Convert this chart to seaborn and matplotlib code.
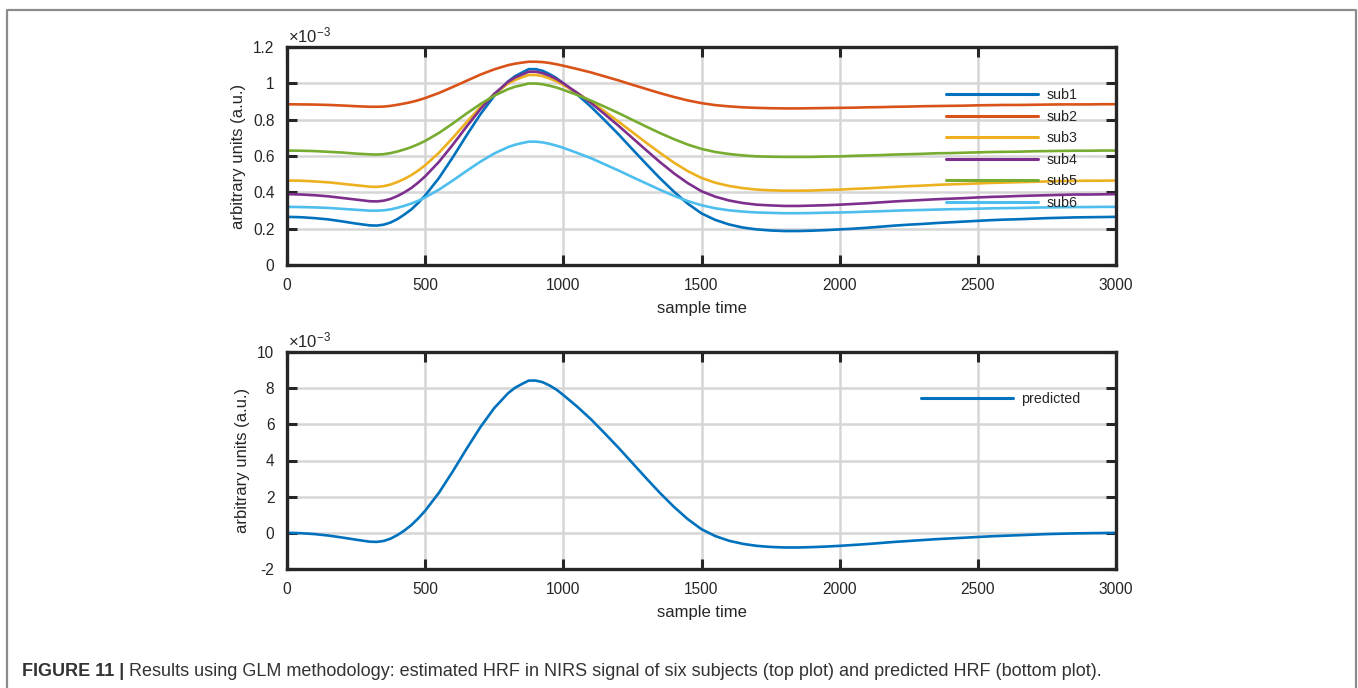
import numpy as np
import pandas as pd
import matplotlib
matplotlib.use("Agg")
import matplotlib.pyplot as plt
from matplotlib.lines import Line2D
from matplotlib.ticker import FuncFormatter
import seaborn as sns

# ---------------- data (values in units of 1e-3) ----------------
t = [0, 50, 100, 150, 200, 250, 300, 325, 350, 375, 400, 425, 450, 475, 500,
     550, 600, 650, 700, 750, 800, 825, 850, 875, 900, 925, 950, 975, 1000,
     1050, 1100, 1150, 1200, 1250, 1300, 1350, 1400, 1450, 1500, 1550, 1600,
     1650, 1700, 1750, 1800, 1850, 1900, 1950, 2000, 2050, 2100, 2150, 2200,
     2250, 2300, 2350, 2400, 2450, 2500, 2550, 2600, 2650, 2700, 2750, 2800,
     2850, 2900, 2950, 3000]

sub1 = [0.265, 0.263, 0.258, 0.251, 0.240, 0.228, 0.218, 0.217, 0.222, 0.234, 0.253,
        0.278, 0.306, 0.342, 0.383, 0.479, 0.593, 0.714, 0.830, 0.931, 1.010, 1.039,
        1.059, 1.078, 1.078, 1.069, 1.051, 1.029, 1.000, 0.939, 0.871, 0.796, 0.719,
        0.637, 0.556, 0.477, 0.404, 0.338, 0.284, 0.248, 0.223, 0.206, 0.196, 0.190,
        0.187, 0.187, 0.189, 0.192, 0.196, 0.200, 0.205, 0.211, 0.217, 0.222, 0.226,
        0.231, 0.235, 0.239, 0.243, 0.247, 0.250, 0.252, 0.255, 0.258, 0.260, 0.262,
        0.263, 0.264, 0.265]
sub2 = [0.885, 0.884, 0.883, 0.881, 0.878, 0.874, 0.871, 0.871, 0.872, 0.876, 0.882,
        0.889, 0.897, 0.907, 0.919, 0.947, 0.980, 1.014, 1.048, 1.077, 1.100, 1.108,
        1.114, 1.119, 1.119, 1.117, 1.112, 1.105, 1.097, 1.079, 1.060, 1.038, 1.016,
        0.992, 0.969, 0.946, 0.925, 0.906, 0.891, 0.880, 0.873, 0.868, 0.865, 0.863,
        0.862, 0.862, 0.863, 0.864, 0.865, 0.866, 0.868, 0.869, 0.871, 0.872, 0.874,
        0.875, 0.876, 0.877, 0.879, 0.880, 0.881, 0.881, 0.882, 0.883, 0.884, 0.884,
        0.884, 0.885, 0.885]
sub3 = [0.465, 0.464, 0.460, 0.455, 0.447, 0.439, 0.431, 0.430, 0.434, 0.443, 0.457,
        0.474, 0.495, 0.520, 0.549, 0.618, 0.700, 0.786, 0.869, 0.941, 0.998, 1.018,
        1.033, 1.046, 1.046, 1.040, 1.027, 1.011, 0.991, 0.947, 0.898, 0.845, 0.789,
        0.731, 0.673, 0.617, 0.564, 0.517, 0.479, 0.453, 0.435, 0.423, 0.415, 0.411,
        0.409, 0.409, 0.410, 0.413, 0.415, 0.419, 0.422, 0.426, 0.430, 0.434, 0.437,
        0.441, 0.444, 0.446, 0.449, 0.452, 0.454, 0.456, 0.458, 0.460, 0.462, 0.463,
        0.464, 0.464, 0.465]
sub4 = [0.390, 0.388, 0.384, 0.378, 0.369, 0.360, 0.351, 0.350, 0.354, 0.364, 0.380,
        0.400, 0.424, 0.454, 0.488, 0.568, 0.662, 0.762, 0.858, 0.942, 1.008, 1.032,
        1.048, 1.064, 1.064, 1.056, 1.042, 1.024, 1.000, 0.948, 0.892, 0.830, 0.766,
        0.699, 0.632, 0.566, 0.505, 0.451, 0.406, 0.376, 0.355, 0.341, 0.332, 0.328,
        0.325, 0.325, 0.327, 0.329, 0.332, 0.336, 0.340, 0.345, 0.350, 0.354, 0.358,
        0.362, 0.365, 0.368, 0.372, 0.375, 0.377, 0.380, 0.382, 0.384, 0.386, 0.388,
        0.388, 0.389, 0.390]
sub5 = [0.630, 0.629, 0.627, 0.623, 0.619, 0.613, 0.609, 0.608, 0.610, 0.616, 0.625,
        0.636, 0.649, 0.665, 0.683, 0.727, 0.779, 0.834, 0.886, 0.932, 0.968, 0.981,
        0.990, 0.999, 0.999, 0.995, 0.987, 0.977, 0.964, 0.936, 0.905, 0.871, 0.836,
        0.799, 0.762, 0.726, 0.693, 0.663, 0.639, 0.622, 0.611, 0.603, 0.598, 0.596,
        0.595, 0.595, 0.595, 0.597, 0.598, 0.601, 0.603, 0.605, 0.608, 0.610, 0.612,
        0.615, 0.616, 0.618, 0.620, 0.622, 0.623, 0.624, 0.626, 0.627, 0.628, 0.629,
        0.629, 0.630, 0.630]
sub6 = [0.320, 0.319, 0.317, 0.314, 0.309, 0.304, 0.299, 0.299, 0.301, 0.306, 0.315,
        0.326, 0.338, 0.354, 0.372, 0.415, 0.465, 0.518, 0.569, 0.614, 0.649, 0.662,
        0.671, 0.679, 0.679, 0.675, 0.667, 0.657, 0.645, 0.617, 0.588, 0.554, 0.520,
        0.484, 0.449, 0.414, 0.381, 0.352, 0.329, 0.312, 0.301, 0.294, 0.289, 0.287,
        0.285, 0.285, 0.286, 0.288, 0.289, 0.291, 0.294, 0.296, 0.299, 0.301, 0.303,
        0.305, 0.307, 0.308, 0.310, 0.312, 0.313, 0.314, 0.316, 0.317, 0.318, 0.319,
        0.319, 0.320, 0.320]
predicted = [0.00, -0.02, -0.07, -0.15, -0.26, -0.38, -0.49, -0.50, -0.45, -0.32, -0.12,
             0.13, 0.43, 0.80, 1.22, 2.22, 3.40, 4.65, 5.85, 6.90, 7.72, 8.02, 8.23,
             8.42, 8.42, 8.33, 8.15, 7.92, 7.62, 6.98, 6.28, 5.50, 4.70, 3.86, 3.02,
             2.20, 1.44, 0.76, 0.20, -0.18, -0.44, -0.61, -0.72, -0.78, -0.81, -0.81,
             -0.79, -0.76, -0.72, -0.67, -0.62, -0.56, -0.50, -0.45, -0.40, -0.35,
             -0.31, -0.27, -0.23, -0.19, -0.16, -0.13, -0.10, -0.07, -0.05, -0.03,
             -0.02, -0.01, 0.00]

subject_names = ["sub1", "sub2", "sub3", "sub4", "sub5", "sub6"]
subject_series = [sub1, sub2, sub3, sub4, sub5, sub6]
colors = ["#0072BD", "#D95319", "#EDB120", "#7E2F8E", "#77AC30", "#4DBEEE"]

x_ticks = [0, 500, 1000, 1500, 2000, 2500, 3000]
top_yticks = [0, 0.2, 0.4, 0.6, 0.8, 1.0, 1.2]
bot_yticks = [-2, 0, 2, 4, 6, 8, 10]

caption_bold = "FIGURE 11 |"
caption_text = (" Results using GLM methodology: estimated HRF in NIRS signal of six "
                "subjects (top plot) and predicted HRF (bottom plot).")

# ---------------- style ----------------
sns.set_theme(style="white")
plt.rcParams["font.family"] = ["Liberation Sans", "DejaVu Sans"]
plt.rcParams["mathtext.fontset"] = "custom"
plt.rcParams["mathtext.rm"] = "Liberation Sans"
plt.rcParams["mathtext.it"] = "Liberation Sans"

TXT = "#262626"
GRID = "#d6d6d6"

fig = plt.figure(figsize=(13.58, 6.88), dpi=100)

# outer frame (open at bottom) and caption on an overlay axes
ov = fig.add_axes([0, 0, 1, 1])
ov.set_xlim(0, 1358)
ov.set_ylim(688, 0)
ov.axis("off")
ov.add_line(Line2D([7, 7, 1356, 1356], [700, 10, 10, 700], color="#8c8c8c", lw=1.6))
t1 = ov.text(22, 671, caption_bold, fontsize=12.95, fontweight="bold", color="#333333",
             va="center", ha="left")
ov.annotate(caption_text, xy=(1, 0.5), xycoords=t1, va="center", ha="left",
            fontsize=12.95, color="#333333")

df_sub = pd.DataFrame({
    "t": np.tile(t, len(subject_names)),
    "value": np.concatenate(subject_series),
    "subject": np.repeat(subject_names, len(t)),
})
df_pred = pd.DataFrame({"t": t, "value": predicted, "series": "predicted"})

ax1 = fig.add_axes([287 / 1358, (688 - 265) / 688, (1116 - 287) / 1358, (265 - 47) / 688])
ax2 = fig.add_axes([287 / 1358, (688 - 569) / 688, (1116 - 287) / 1358, (569 - 352) / 688])

sns.lineplot(data=df_sub, x="t", y="value", hue="subject", palette=colors,
             linewidth=1.9, ax=ax1, legend=False, sort=False)
sns.lineplot(data=df_pred, x="t", y="value", color=colors[0],
             linewidth=1.9, ax=ax2, legend=False, sort=False)


def fmt(v, pos):
    return "%g" % round(v, 6)


for ax, yt, ylim in [(ax1, top_yticks, (0, 1.2)), (ax2, bot_yticks, (-2, 10))]:
    ax.set_xlim(0, 3000)
    ax.set_ylim(*ylim)
    ax.set_xticks(x_ticks)
    ax.set_yticks(yt)
    ax.xaxis.set_major_formatter(FuncFormatter(fmt))
    ax.yaxis.set_major_formatter(FuncFormatter(fmt))
    ax.grid(True, color=GRID, lw=1.8)
    ax.set_axisbelow(True)
    ax.tick_params(direction="in", top=True, right=True, bottom=True, left=True,
                   length=7, width=2.2, color=TXT, labelcolor=TXT, labelsize=11.2, pad=9)
    for s in ax.spines.values():
        s.set_color(TXT)
        s.set_linewidth(2.4)
        s.set_visible(True)
    ax.set_xlabel("sample time", fontsize=12, color=TXT, labelpad=6)
    ax.set_ylabel("arbitrary units (a.u.)", fontsize=12, color=TXT, labelpad=5)
    ax.text(0.001, 1.008, r"$\times10^{-3}$", transform=ax.transAxes, fontsize=12,
            color=TXT, ha="left", va="bottom")

# legends
h1 = [Line2D([], [], color=c, lw=2.2) for c in colors]
leg1 = ax1.legend(h1, subject_names, loc="upper left", bbox_to_anchor=(0.795, 0.812),
                  frameon=False, fontsize=10.3, handlelength=6.4, handletextpad=0.6,
                  labelspacing=0.53, borderpad=0, borderaxespad=0)
for tx in leg1.get_texts():
    tx.set_color(TXT)
h2 = [Line2D([], [], color=colors[0], lw=2.2)]
leg2 = ax2.legend(h2, ["predicted"], loc="upper left", bbox_to_anchor=(0.765, 0.817),
                  frameon=False, fontsize=10.3, handlelength=6.4, handletextpad=0.6,
                  borderpad=0, borderaxespad=0)
for tx in leg2.get_texts():
    tx.set_color(TXT)

fig.savefig("out.png", dpi=100, facecolor="white")
